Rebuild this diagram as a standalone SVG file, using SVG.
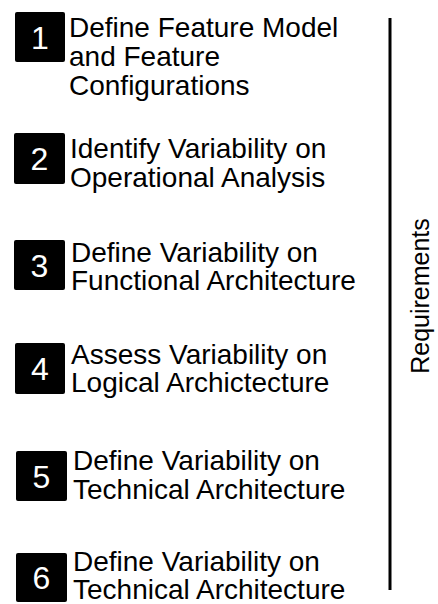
<svg xmlns="http://www.w3.org/2000/svg" width="438" height="604" viewBox="0 0 438 604">
<style>
.box{fill:#000;}
.num{font-family:"Liberation Sans",Arial,sans-serif;font-size:32px;fill:#fff;text-anchor:middle;}
.lbl{font-family:"Liberation Sans",Arial,sans-serif;font-size:28px;fill:#000;}
.side{font-family:"Liberation Sans",Arial,sans-serif;font-size:25px;fill:#000;text-anchor:middle;}
</style>
<rect width="438" height="604" fill="#fff"/>
<g id="step1">
<rect class="box" x="15" y="12" width="50" height="50" rx="2"/>
<text class="num" x="40" y="48.5">1</text>
<text class="lbl" x="69" y="37">Define Feature Model</text>
<text class="lbl" x="69" y="66">and Feature</text>
<text class="lbl" x="69" y="95">Configurations</text>
</g>
<g id="step2">
<rect class="box" x="14" y="133" width="51" height="51" rx="2"/>
<text class="num" x="39.5" y="170">2</text>
<text class="lbl" x="70" y="158">Identify Variability on</text>
<text class="lbl" x="70" y="187">Operational Analysis</text>
</g>
<g id="step3">
<rect class="box" x="14" y="240" width="51" height="50" rx="2"/>
<text class="num" x="39.5" y="276.5">3</text>
<text class="lbl" x="71" y="262">Define Variability on</text>
<text class="lbl" x="71" y="290">Functional Architecture</text>
</g>
<g id="step4">
<rect class="box" x="15" y="343" width="50" height="51" rx="2"/>
<text class="num" x="40" y="380">4</text>
<text class="lbl" x="71" y="364">Assess Variability on</text>
<text class="lbl" x="71" y="392">Logical Archictecture</text>
</g>
<g id="step5">
<rect class="box" x="16" y="451" width="51" height="50" rx="2"/>
<text class="num" x="41.5" y="487.5">5</text>
<text class="lbl" x="73" y="470">Define Variability on</text>
<text class="lbl" x="73" y="499">Technical Architecture</text>
</g>
<g id="step6">
<rect class="box" x="16" y="553" width="51" height="49" rx="2"/>
<text class="num" x="41.5" y="589">6</text>
<text class="lbl" x="73" y="571">Define Variability on</text>
<text class="lbl" x="73" y="599">Technical Architecture</text>
</g>
<g id="connectors">
<line x1="390" y1="18" x2="390" y2="590" stroke="#000" stroke-width="3"/>
</g>
<g id="requirements">
<text class="side" transform="translate(429,296) rotate(-90)">Requirements</text>
</g>
</svg>
